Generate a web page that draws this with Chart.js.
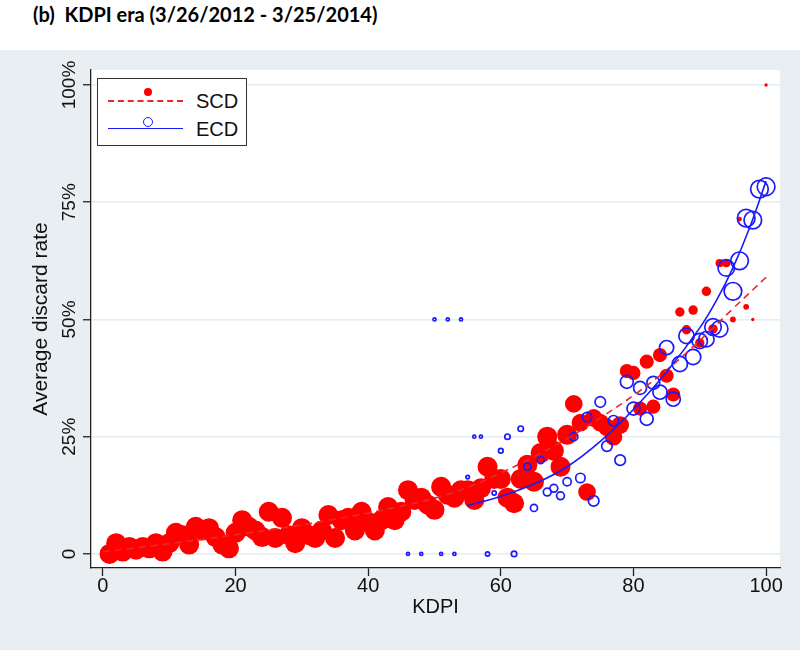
<!DOCTYPE html>
<html><head><meta charset="utf-8">
<script src="https://cdn.jsdelivr.net/npm/chart.js@4/dist/chart.umd.min.js"></script>
<style>
body{margin:0;width:800px;height:650px;background:#fff;position:relative;overflow:hidden;font-family:"Liberation Sans",Arial,sans-serif;}
#title{position:absolute;left:33px;top:2px;font-family:Lato,"Open Sans",sans-serif;font-weight:bold;font-size:20px;color:#000;white-space:pre;}
#wrap{position:absolute;left:0;top:50px;width:800px;height:600px;background:#e8eef2;}
#legend{position:absolute;left:97px;top:78px;width:148px;height:66px;border:1px solid #333;background:#fff;}
.ln{position:absolute;left:10px;width:75px;height:0;}
.dot{position:absolute;border-radius:50%;box-sizing:border-box;}
.lt{position:absolute;left:98px;font-size:20px;line-height:20px;color:#111;}
</style>
</head><body>
<div id="title">(b)  KDPI era (3/26/2012 - 3/25/2014)</div>
<div id="wrap"><canvas id="c" width="800" height="600"></canvas></div>
<div id="legend">
  <div class="ln" style="top:21px;border-top:2px dashed #e8282a;"></div>
  <div class="dot" style="left:46px;top:9px;width:8px;height:8px;background:#ff0000;"></div>
  <div class="lt" style="top:12px;">SCD</div>
  <div class="ln" style="top:49px;border-top:1.5px solid #1a1aff;"></div>
  <div class="dot" style="left:45px;top:38px;width:10px;height:10px;border:1.6px solid #1a1aff;"></div>
  <div class="lt" style="top:40px;">ECD</div>
</div>
<script>
// SCD (standard criteria donors): average discard rate (%) by KDPI, marker weight
const scdKdpi = [1,2,3,4,5,6,7,8,9,10,11,12,13,14,15,16,17,18,19,20,21,22,23,24,25,26,27,28,29,30,31,32,33,34,35,36,37,38,39,40,41,42,43,44,45,46,47,48,49,50,51,52,53,54,55,56,57,58,59,60,61,62,63,64,65,66,67,68,69,70,71,72,73,74,75,76,77,78,79,80,81,82,83,84,85,86,87,88,89,90,91,92,93,94,95,96,97,98,100];
const scdRate = [0,2.3,0.5,1.5,0.9,1.5,1.2,2.3,0.5,2.3,4.5,4,2,5.8,5,5.5,3.6,2,1.2,4.5,7.2,5.8,5,3.6,9,3.4,7.7,4,2.3,5.5,4,3.4,5,8.3,3.4,7.2,7.7,5,9,6.8,5,7.2,10,7.2,9,13.6,11.5,12,10.5,9.4,14.3,12.6,12,13.6,13.6,11.5,14,18.6,16,16,12,10.8,16,19,15.4,21.5,25,22,18.6,25.4,32,28,13.2,29,28,27,25,27.5,39,38.6,31,41,31.4,42.4,38,34,51.6,47.8,52,45,56,48,62,62,50,71.4,52.7,50,100];
const scdWeight = [72,72,72,72,72,72,72,72,72,72,72,72,72,72,72,72,72,72,72,72,72,72,72,72,72,72,72,72,72,72,72,72,72,72,72,72,72,72,72,72,72,72,72,72,72,72,72,72,72,72,72,72,72,72,72,72,72,72,72,72,72,72,72,72,72,72,72,72,72,72,56,56,56,56,56,56,56,56,36,36,36,36,36,36,36,36,16,16,16,16,16,16,12,12,6,4,6,2,2];

// ECD (expanded criteria donors)
const ecdKdpi = [46,48,50,51,52,53,54,55,56,57,58,59,60,61,62,63,64,65,66,67,68,69,70,71,72,73,74,75,76,77,78,79,80,81,82,83,84,85,86,87,88,89,90,91,92,93,94,95,96,97,98,99,100];
const ecdRate = [0,0,50,0,50,0,50,16.4,25,25,0,13,22,25,0,26.7,18.6,9.8,20,13.2,14,12.4,15.4,25,16.2,29.2,11.3,32.4,23,28.4,20,36.7,31,35.4,28.8,36.5,34.5,44,33,40.5,46.5,42,45.4,45.8,48.4,48,61,56,62.5,71.6,71.2,77.8,78.3];
const ecdWeight = [1.7,1.7,1.7,1.7,1.7,1.7,1.7,2.2,1.7,1.7,3.2,3.2,4,5.3,5.3,5.3,9,9,9,11,11,11,12,12,16,16,20,20,20,20,20,30,30,30,30,30,36,36,36,42,42,42,42,42,49,49,49,56,56,56,56,56,56];

// Fitted curves
const scdFitKdpi = [0,5,10,15,20,25,30,35,40,45,50,55,60,65,70,75,80,85,90,95,100];
const scdFitRate = [0.5,1.3,2.2,3.1,4.1,5.1,6.2,7.4,8.7,10.2,11.9,14.2,17.3,20.7,24.6,29,33.8,39.2,45.5,52.3,59];
const ecdFitKdpi = [55,60,65,70,75,80,85,90,92.5,95,97.5,100];
const ecdFitRate = [10.3,12.3,14.9,18.6,24,30.8,38.8,48.2,54,61,69.5,79.5];

const xTicks = [0,20,40,60,80,100];
const yTicks = [0,25,50,75,100];

const pts = (xs, ys) => xs.map((x, i) => ({x, y: ys[i]}));

const bgPlugin = {
  id: 'bg',
  beforeDraw(chart) {
    const {ctx, chartArea: a} = chart;
    ctx.save();
    ctx.fillStyle = '#ffffff';
    ctx.fillRect(a.left, a.top, a.right - a.left, a.bottom - a.top);
    ctx.restore();
  }
};

const tickFont = {family: '"Liberation Sans", Arial, sans-serif', size: 19};
const xTickFont = {family: '"Liberation Sans", Arial, sans-serif', size: 20};
const titleFont = {family: '"Liberation Sans", Arial, sans-serif', size: 21};

new Chart(document.getElementById('c'), {
  type: 'scatter',
  data: {
    datasets: [
      {label: 'SCD', data: pts(scdKdpi, scdRate), backgroundColor: '#ff0000', borderColor: '#ff0000', borderWidth: 0,
       pointRadius: c => 1.18 * Math.sqrt(scdWeight[c.dataIndex]), order: 4},
      {label: 'ECD', data: pts(ecdKdpi, ecdRate), backgroundColor: 'rgba(0,0,0,0)', borderColor: '#1a1aff', borderWidth: 1.7,
       pointRadius: c => 1.18 * Math.sqrt(ecdWeight[c.dataIndex]), order: 3},
      {label: 'SCD fit', data: pts(scdFitKdpi, scdFitRate), showLine: true, pointRadius: 0, borderColor: '#e8282a',
       borderWidth: 1.6, borderDash: [7, 5], tension: 0.4, fill: false, order: 2},
      {label: 'ECD fit', data: pts(ecdFitKdpi, ecdFitRate), showLine: true, pointRadius: 0, borderColor: '#1a1aff',
       borderWidth: 1.6, tension: 0.4, fill: false, order: 1}
    ]
  },
  options: {
    responsive: false,
    animation: false,
    events: [],
    layout: {padding: {left: 0, right: 20, top: 20, bottom: 0}},
    plugins: {legend: {display: false}, tooltip: {enabled: false}},
    scales: {
      x: {
        type: 'linear', min: -1.8, max: 102.1,
        afterBuildTicks: s => { s.ticks = xTicks.map(v => ({value: v})); },
        afterFit: s => { s.height = 82; },
        grid: {drawOnChartArea: false, tickLength: 8, tickColor: '#222', tickWidth: 1.3},
        border: {color: '#222', width: 1.3},
        ticks: {font: xTickFont, color: '#111', padding: -2, maxRotation: 0},
        title: {display: true, text: 'KDPI', font: xTickFont, color: '#111', padding: {top: 0, bottom: 31}}
      },
      y: {
        type: 'linear', min: -3, max: 103.2,
        afterBuildTicks: s => { s.ticks = yTicks.map(v => ({value: v})); },
        afterFit: s => { s.width = 91; },
        grid: {color: '#e6ebee', lineWidth: 1.5, tickLength: 8, tickColor: '#222', tickWidth: 1.3},
        border: {color: '#222', width: 1.3},
        ticks: {font: tickFont, color: '#111', minRotation: 90, maxRotation: 90, crossAlign: 'center', padding: -11,
                callback: v => v === 0 ? '0' : v + '%'},
        title: {display: true, text: 'Average discard rate', font: titleFont, color: '#111', padding: {top: 29, bottom: 0}}
      }
    }
  },
  plugins: [bgPlugin]
});
</script>
</body></html>
